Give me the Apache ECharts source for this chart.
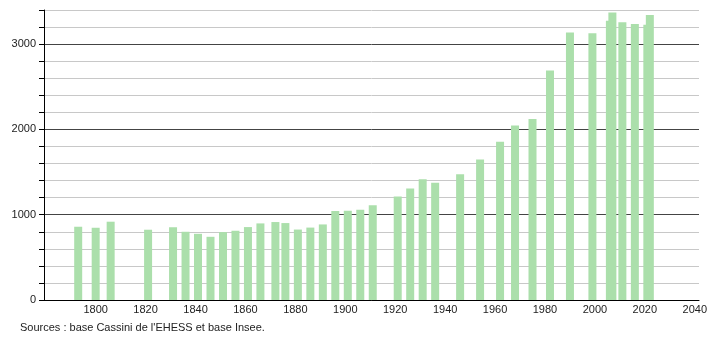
<!DOCTYPE html>
<html>
<head>
<meta charset="utf-8">
<script src="https://cdn.jsdelivr.net/npm/echarts@6/dist/echarts.min.js"></script>
<style>html,body{margin:0;padding:0;background:#fff}#c{width:710px;height:340px}</style>
</head>
<body>
<div id="c"></div>
<script>
const years = [1793,1800,1806,1821,1831,1836,1841,1846,1851,1856,1861,1866,1872,1876,1881,1886,1891,1896,1901,1906,1911,1921,1926,1931,1936,1946,1954,1962,1968,1975,1982,1990,1999,2006,2007,2011,2016,2021,2022];
const population = [859,847,918,824,853,800,776,741,796,812,855,898,914,902,826,849,886,1043,1047,1059,1110,1212,1306,1416,1376,1474,1647,1855,2047,2122,2692,3135,3128,3274,3370,3255,3235,3227,3341];
const xTickLabels = [1800,1820,1840,1860,1880,1900,1920,1940,1960,1980,2000,2020,2040];
const yTickLabels = [0,1000,2000,3000];
const sourceText = "Sources : base Cassini de l'EHESS et base Insee.";

const chart = echarts.init(document.getElementById('c'), null, {renderer: 'canvas'});
const font = "'Liberation Sans', Arial, sans-serif";
chart.setOption({
  animation: false,
  grid: {left: 44, right: 10, top: 10, bottom: 40, containLabel: false},
  xAxis: {
    type: 'value', min: 1779.3, max: 2041.7,
    axisLine: {show: true, lineStyle: {color: '#000', width: 1}},
    axisTick: {show: false},
    splitLine: {show: false},
    axisLabel: {customValues: xTickLabels, color: '#222', fontSize: 11, fontFamily: font, margin: 4,
      showMinLabel: true, showMaxLabel: true, formatter: v => String(v)}
  },
  yAxis: {
    type: 'value', min: 0, max: 3400, interval: 200,
    axisLine: {show: true, lineStyle: {color: '#000', width: 1}},
    axisTick: {show: true, length: 5, lineStyle: {color: '#000'}},
    splitLine: {show: true, lineStyle: {color: ['#444','#c8c8c8','#c8c8c8','#c8c8c8','#c8c8c8'], width: 1}},
    axisLabel: {color: '#222', fontSize: 11, fontFamily: font, margin: 8,
      formatter: v => yTickLabels.includes(v) ? String(v) : ''}
  },
  series: [{
    type: 'bar',
    barWidth: 8,
    itemStyle: {color: '#abdfab'},
    data: years.map((y, i) => [y, population[i]])
  }],
  graphic: [{
    type: 'text', left: 20, top: 322,
    style: {text: sourceText, fill: '#222', font: '11px ' + font}
  }]
});
</script>
</body>
</html>
